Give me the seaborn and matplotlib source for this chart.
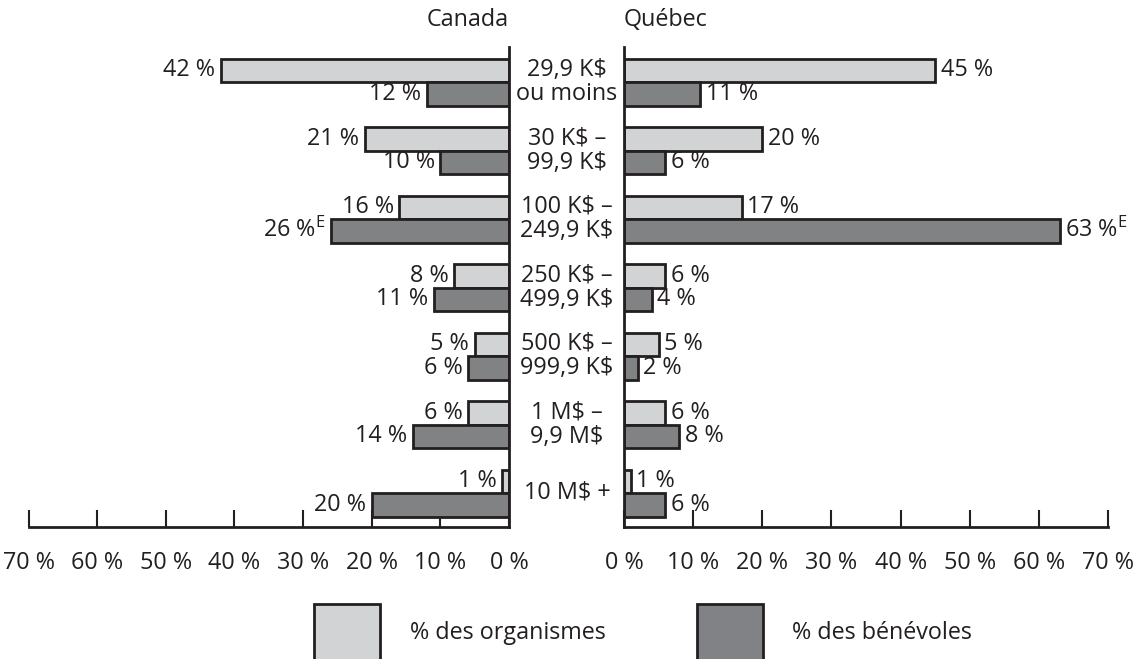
import seaborn as sns
import pandas as pd
import matplotlib.pyplot as plt
from matplotlib.patches import Rectangle

sns.set_style("white")
plt.rcParams['font.family'] = ['Open Sans', 'DejaVu Sans']
plt.rcParams['mathtext.fontset'] = 'custom'
plt.rcParams['mathtext.rm'] = 'Open Sans'

# data
tranches = ["29,9 K$\nou moins", "30 K$ –\n99,9 K$", "100 K$ –\n249,9 K$",
            "250 K$ –\n499,9 K$", "500 K$ –\n999,9 K$", "1 M$ –\n9,9 M$", "10 M$ +"]
canada_org = [42, 21, 16, 8, 5, 6, 1]
canada_ben = [12, 10, 26, 11, 6, 14, 20]
quebec_org = [45, 20, 17, 6, 5, 6, 1]
quebec_ben = [11, 6, 63, 4, 2, 8, 6]
# "E" flag (use with caution) on the volunteer values
canada_flag = [False, False, True, False, False, False, False]
quebec_flag = [False, False, True, False, False, False, False]
series = ["% des organismes", "% des bénévoles"]
ticks = [0, 10, 20, 30, 40, 50, 60, 70]

LIGHT = "#d1d3d4"
DARK = "#808285"
INK = "#231f20"
W, H = 1141, 659
FS = 16.8


def make_df(org, ben):
    n = len(tranches)
    return pd.DataFrame({
        "tranche": tranches * 2,
        "serie": [series[0]] * n + [series[1]] * n,
        "valeur": org + ben,
    })


fig = plt.figure(figsize=(W / 100, H / 100), dpi=100)
ax_l = fig.add_axes([28.6 / W, 132 / H, 480.4 / W, 480 / H])
ax_r = fig.add_axes([624 / W, 132 / H, 484 / W, 480 / H])

pal = {series[0]: LIGHT, series[1]: DARK}

for ax, org, ben, flags, side in [(ax_l, canada_org, canada_ben, canada_flag, "L"),
                                  (ax_r, quebec_org, quebec_ben, quebec_flag, "R")]:
    df = make_df(org, ben)
    sns.barplot(data=df, y="tranche", x="valeur", hue="serie", order=tranches,
                hue_order=series, palette=pal, orient="h", width=0.686,
                edgecolor=INK, linewidth=2.0, errorbar=None, legend=False, ax=ax)
    ax.set_ylim(6.496, -0.511)
    if side == "L":
        ax.set_xlim(70, 0)
    else:
        ax.set_xlim(0, 70)
    ax.set_xticks(ticks)
    ax.set_xticklabels([f"{t} %" for t in ticks])
    ax.set_yticks([])
    ax.set_xlabel("")
    ax.set_ylabel("")
    ax.tick_params(axis="x", bottom=True, direction="in", length=12, width=1.5,
                   color=INK, labelsize=FS, labelcolor=INK, pad=17)
    for s in ax.spines.values():
        s.set_visible(False)
    ax.spines["bottom"].set_visible(True)
    ax.spines["bottom"].set_linewidth(2)
    ax.spines["bottom"].set_color(INK)
    mid = ax.spines["right"] if side == "L" else ax.spines["left"]
    mid.set_visible(True)
    mid.set_linewidth(2)
    mid.set_color(INK)

    # value labels
    off = -4 if side == "L" else 4
    ha = "right" if side == "L" else "left"
    for cont, vals, flg in [(ax.containers[0], org, [False] * len(org)),
                            (ax.containers[1], ben, flags)]:
        for bar, v, f in zip(cont, vals, flg):
            y = bar.get_y() + bar.get_height() / 2
            lab = f"{v} %" + (r"$^{\mathrm{E}}$" if f else "")
            ax.annotate(lab, (v, y), xytext=(off, 0), textcoords="offset points",
                        ha=ha, va="center", fontsize=FS, color=INK)

# category labels in the middle
for i, t in enumerate(tranches):
    fig.text(567 / W, 1 - (82 + i * 68.5) / H, t, ha="center", va="center",
             fontsize=FS, color=INK, linespacing=1.02, parse_math=False)

fig.text(509 / W, 1 - 20 / H, "Canada", ha="right", va="center", fontsize=FS, color=INK)
fig.text(624 / W, 1 - 20 / H, "Québec", ha="left", va="center", fontsize=FS, color=INK)

# legend
for x0, col, lab, tx in [(314, LIGHT, series[0], 410), (697, DARK, series[1], 792)]:
    fig.add_artist(Rectangle((x0 / W, 1 - 664 / H), 66 / W, 60 / H,
                             transform=fig.transFigure, facecolor=col,
                             edgecolor=INK, linewidth=2))
    fig.text(tx / W, 1 - 633 / H, lab, ha="left", va="center", fontsize=FS, color=INK)

fig.savefig("out.png", dpi=100)
